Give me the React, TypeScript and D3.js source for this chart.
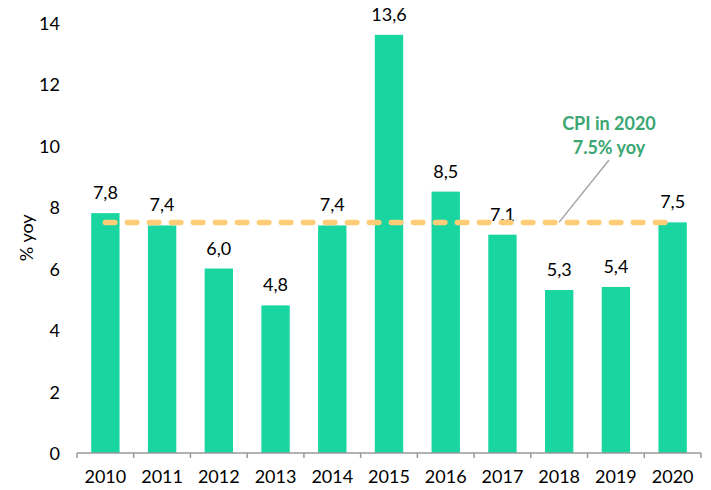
import React from "react";
import * as d3 from "d3";

const years = ["2010","2011","2012","2013","2014","2015","2016","2017","2018","2019","2020"];
const cpi = [7.8, 7.4, 6.0, 4.8, 7.4, 13.6, 8.5, 7.1, 5.3, 5.4, 7.5];
const cpi2020 = 7.5;
const yTicks = [0, 2, 4, 6, 8, 10, 12, 14];
const annotationLines = ["CPI in 2020", "7.5% yoy"];

const W = 711, H = 490;
const FONT = "Lato, 'Open Sans', sans-serif";

export default function App() {
  const x = d3.scaleBand<string>().domain(years).range([77, 701]).paddingInner(0.5).paddingOuter(0.25);
  const y = d3.scaleLinear().domain([0, 14]).range([453, 22.5]);
  const lineData = years.map((yr) => ({ yr, v: cpi2020 }));
  const line = d3.line<{ yr: string; v: number }>()
    .x((d) => (x(d.yr) as number) + x.bandwidth() / 2)
    .y((d) => y(d.v));
  const tickXs = d3.range(years.length + 1).map((i) => 77 + i * (624 / years.length));

  return (
    <svg width={W} height={H} style={{ position: "absolute", left: 0, top: 0, fontFamily: FONT }}>
      {yTicks.map((t) => (
        <text key={t} x={60} y={y(t)} textAnchor="end" dominantBaseline="central" fontSize={18} fill="#000">{t}</text>
      ))}
      <text transform={`translate(26,${y(7.0)}) rotate(-90)`} textAnchor="middle" dominantBaseline="central" fontSize={18} fill="#000">% yoy</text>
      {years.map((yr, i) => (
        <g key={yr}>
          <rect x={x(yr)} y={y(cpi[i])} width={x.bandwidth()} height={y(0) - y(cpi[i])} fill="#19D6A0" />
          <text x={(x(yr) as number) + x.bandwidth() / 2} y={y(cpi[i]) - 14} textAnchor="middle" fontSize={18} fill="#000">
            {d3.format(".1f")(cpi[i]).replace(".", ",")}
          </text>
          <text x={(x(yr) as number) + x.bandwidth() / 2} y={y(0) + 23} textAnchor="middle" dominantBaseline="central" fontSize={18} fill="#000">{yr}</text>
        </g>
      ))}
      <line x1={77} x2={701} y1={y(0)} y2={y(0)} stroke="#999" strokeWidth={1.5} />
      {tickXs.map((tx, i) => (
        <line key={i} x1={tx} x2={tx} y1={y(0)} y2={y(0) + 5} stroke="#999" strokeWidth={1.5} />
      ))}
      <line x1={609} y1={160} x2={559} y2={y(cpi2020)} stroke="#a6a6a6" strokeWidth={1.5} />
      <path d={line(lineData) || ""} fill="none" stroke="#FFCC77" strokeWidth={5.5} strokeDasharray="9.5 12.5" strokeLinecap="round" />
      {annotationLines.map((s, i) => (
        <text key={i} x={609} y={123 + i * 24} textAnchor="middle" dominantBaseline="central" fontSize={18} fontWeight="bold" fill="#3BA672">{s}</text>
      ))}
    </svg>
  );
}
